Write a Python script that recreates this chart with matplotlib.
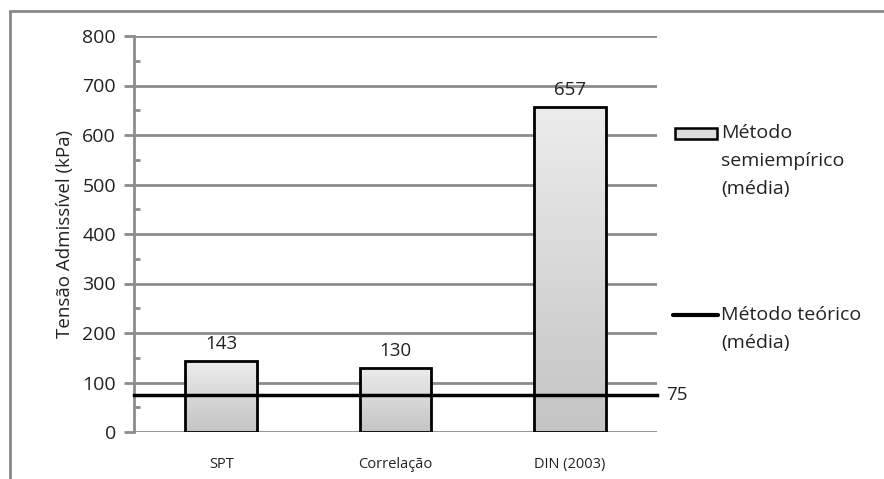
import matplotlib
matplotlib.use("Agg")
import matplotlib.pyplot as plt
import numpy as np
from matplotlib.patches import Rectangle
from matplotlib.lines import Line2D
from matplotlib.colors import LinearSegmentedColormap

plt.rcParams['font.family'] = ['Open Sans', 'DejaVu Sans']

categories = ["SPT", "Correlação", "DIN (2003)"]
semiempirico = [143, 130, 657]
teorico = 75
y_ticks = [0, 100, 200, 300, 400, 500, 600, 700, 800]

W, H = 884, 479
fig = plt.figure(figsize=(W / 100, H / 100), dpi=100)
ax = fig.add_axes([134 / W, 1 - 432 / H, (657 - 134) / W, (432 - 36) / H])

x = np.arange(len(categories)) + 0.5
bw = 0.41
grad = LinearSegmentedColormap.from_list("g", ["#c4c4c4", "#ececec"])
gimg = np.linspace(0, 1, 256).reshape(-1, 1)
txt = "#222222"

for xi, v in zip(x, semiempirico):
    rect = Rectangle((xi - bw / 2, 0), bw, v, facecolor="none",
                     edgecolor="black", linewidth=2, zorder=4)
    ax.add_patch(rect)
    im = ax.imshow(gimg, cmap=grad, origin="lower", aspect="auto",
                   extent=(xi - bw / 2, xi + bw / 2, 0, v), zorder=3)
    im.set_clip_path(rect)
    ax.text(xi, v + 16, f"{v}", ha="center", va="bottom", fontsize=13.5,
            color=txt)

ax.axhline(teorico, color="black", linewidth=2.5, zorder=5, clip_on=False)
ax.text(3.05, teorico, f"{teorico}", ha="left", va="center", fontsize=13.5,
        color=txt)

ax.set_xlim(0, 3)
ax.set_ylim(0, 800)
ax.set_yticks(y_ticks)
ax.set_yticks(np.arange(50, 800, 100), minor=True)
ax.set_xticks(x)
ax.set_xticklabels(categories, fontsize=10.5, color=txt)
ax.tick_params(axis="x", length=0, pad=18)
ax.tick_params(axis="y", which="major", length=7, width=2, color="#8c8c8c",
               labelsize=14, pad=6, direction="out", labelcolor=txt)
ax.tick_params(axis="y", which="minor", length=4, width=2, color="#8c8c8c",
               direction="in")
ax.grid(axis="y", color="#8c8c8c", linewidth=2)
ax.set_axisbelow(True)
for s in ["top", "right", "bottom"]:
    ax.spines[s].set_visible(False)
ax.spines["left"].set_color("#8c8c8c")
ax.spines["left"].set_linewidth(2)
ax.set_ylabel("Tensão Admissível (kPa)", fontsize=13.5, labelpad=6,
              color=txt)

# legend drawn in figure coordinates
fig.patches.append(Rectangle((675 / W, 1 - 139 / H), 42 / W, 11 / H,
                             transform=fig.transFigure, facecolor="#dcdcdc",
                             edgecolor="black", linewidth=1.8))
for i, line in enumerate(["Método", "semiempírico", "(média)"]):
    fig.text(721 / W, 1 - (133 + 28 * i) / H, line, ha="left", va="center",
             fontsize=14, color=txt)
fig.lines.append(Line2D([673 / W, 718 / W], [1 - 315 / H, 1 - 315 / H],
                        transform=fig.transFigure, color="black",
                        linewidth=3, solid_capstyle="round"))
for i, line in enumerate(["Método teórico", "(média)"]):
    fig.text(721 / W, 1 - (315 + 28 * i) / H, line, ha="left", va="center",
             fontsize=14, color=txt)

# outer frame
fig.patches.append(Rectangle((10 / W, -0.1), 1.2, 1 - 11 / H + 0.1,
                             transform=fig.transFigure, facecolor="none",
                             edgecolor="#888888", linewidth=2))

fig.savefig("out.png", dpi=100, facecolor="white")
